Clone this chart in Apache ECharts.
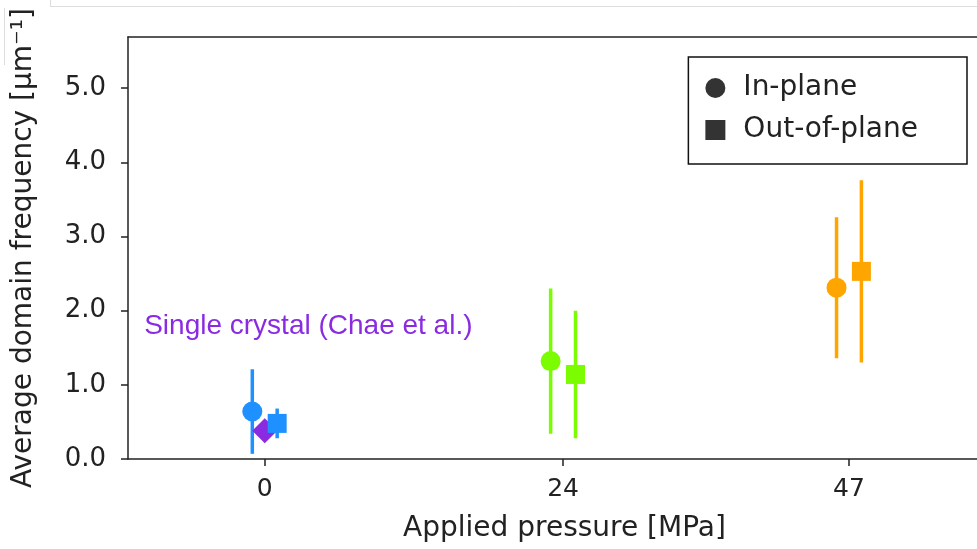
<!DOCTYPE html>
<html>
<head>
<meta charset="utf-8">
<script src="https://cdn.jsdelivr.net/npm/echarts@6/dist/echarts.min.js"></script>
<style>
  html, body { margin: 0; padding: 0; background: #fff; }
  #chart { width: 977px; height: 549px; }
</style>
</head>
<body>
<div id="chart"></div>
<script>
// Applied pressure levels [MPa] and the colour used for each level
const pressures = [0, 24, 47];
const pressureColors = ['#1E90FF', '#7CFC00', '#FFA500'];

// Average domain frequency [µm^-1]: mean and symmetric error
const inPlaneMean = [0.64, 1.32, 2.31];
const inPlaneErr = [0.57, 0.98, 0.95];
const outPlaneMean = [0.48, 1.14, 2.53];
const outPlaneErr = [0.20, 0.86, 1.23];

// Single-crystal reference point (pressure, frequency)
const singleCrystal = [0, 0.38];

// Tick values
const xTicks = [0, 24, 47];
const yTicks = [0, 1, 2, 3, 4, 5];

const FONT = 'DejaVu Sans';
const INK = '#222';
const DODGE = 1; // horizontal shift (MPa) separating the two orientations
const X_MIN = -11, X_MAX = 57.3;

function errorBarRenderer(shape) {
  return function (params, api) {
    const x = api.value(0), y = api.value(1), e = api.value(2);
    const top = api.coord([x, y + e]);
    const bot = api.coord([x, y - e]);
    const c = api.coord([x, y]);
    const color = pressureColors[params.dataIndex];
    const children = [{
      type: 'line',
      shape: { x1: top[0], y1: top[1], x2: bot[0], y2: bot[1] },
      style: { stroke: color, lineWidth: 3.5 }
    }];
    if (shape === 'circle') {
      children.push({ type: 'circle', shape: { cx: c[0], cy: c[1], r: 10 }, style: { fill: color } });
    } else {
      children.push({ type: 'rect', shape: { x: c[0] - 9.5, y: c[1] - 9.5, width: 19, height: 19 }, style: { fill: color } });
    }
    return { type: 'group', children };
  };
}

const inPlaneData = pressures.map((p, i) => [p - DODGE, inPlaneMean[i], inPlaneErr[i]]);
const outPlaneData = pressures.map((p, i) => [p + DODGE, outPlaneMean[i], outPlaneErr[i]]);

const chart = echarts.init(document.getElementById('chart'), null, { renderer: 'canvas' });

chart.setOption({
  animation: false,
  backgroundColor: '#fff',
  grid: { left: 128, top: 37, right: 0, bottom: 90, show: false, outerBoundsMode: 'none', containLabel: false },
  xAxis: [
    {
      type: 'value', min: X_MIN, max: X_MAX,
      name: 'Applied pressure [MPa]', nameLocation: 'middle', nameGap: 56,
      nameTextStyle: { fontFamily: FONT, fontSize: 28, color: INK, padding: [0, 0, 0, 24] },
      axisLine: { show: true, onZero: false, lineStyle: { color: INK, width: 1.5 } },
      axisTick: { show: true, customValues: xTicks, length: 7, lineStyle: { color: INK, width: 1.5 } },
      axisLabel: { customValues: xTicks, margin: 18, fontFamily: FONT, fontSize: 25, color: INK },
      splitLine: { show: false }
    },
    {
      // top spine only
      type: 'value', position: 'top', min: X_MIN, max: X_MAX,
      axisLine: { show: true, onZero: false, lineStyle: { color: INK, width: 1.5 } },
      axisTick: { show: false }, axisLabel: { show: false }, splitLine: { show: false }
    }
  ],
  yAxis: {
    type: 'value', min: 0, max: 5.69,
    name: 'Average domain frequency [μm⁻¹]', nameLocation: 'middle', nameGap: 90, nameRotate: 90,
    nameTextStyle: { fontFamily: FONT, fontSize: 28, color: INK },
    axisLine: { show: true, onZero: false, lineStyle: { color: INK, width: 1.5 } },
    axisTick: { show: true, customValues: yTicks, length: 7, lineStyle: { color: INK, width: 1.5 } },
    axisLabel: {
      customValues: yTicks, margin: 22, fontFamily: FONT, fontSize: 26, color: INK,
      formatter: v => v.toFixed(1)
    },
    splitLine: { show: false }
  },
  legend: {
    orient: 'vertical', right: 10, top: 57,
    borderColor: '#111', borderWidth: 1.5, borderRadius: 0,
    padding: [17, 49, 20, 17], itemGap: 14, itemWidth: 20, itemHeight: 20,
    textStyle: { fontFamily: FONT, fontSize: 28, color: INK, padding: [0, 0, 0, 13] },
    data: [
      { name: 'In-plane', icon: 'circle', itemStyle: { color: '#333' } },
      { name: 'Out-of-plane', icon: 'rect', itemStyle: { color: '#333' } }
    ]
  },
  series: [
    {
      name: 'Single crystal', type: 'scatter', symbol: 'diamond', symbolSize: 25,
      itemStyle: { color: '#8A2BE2', opacity: 1 }, z: 2,
      data: [singleCrystal]
    },
    {
      name: 'In-plane', type: 'custom', z: 1, color: '#333',
      renderItem: errorBarRenderer('circle'), data: inPlaneData,
      encode: { x: 0, y: [1, 2] }
    },
    {
      name: 'Out-of-plane', type: 'custom', z: 3, color: '#333',
      renderItem: errorBarRenderer('square'), data: outPlaneData,
      encode: { x: 0, y: [1, 2] }
    }
  ]
});

// Annotation anchored in data space next to the single-crystal point
const labelPos = chart.convertToPixel({ gridIndex: 0 }, [-9.7, 1.79]);
chart.setOption({
  graphic: [
    {
      type: 'text', x: labelPos[0], y: labelPos[1],
      style: {
        text: 'Single crystal (Chae et al.)', fill: '#8A2BE2',
        font: '28px "Liberation Sans", Arial, sans-serif', align: 'left', verticalAlign: 'middle'
      }
    },
    // thin light page edges at the top-left corner
    { type: 'line', shape: { x1: 50, y1: 6.5, x2: 977, y2: 6.5 }, style: { stroke: '#ddd', lineWidth: 1 } },
    { type: 'line', shape: { x1: 50.5, y1: 0, x2: 50.5, y2: 6.5 }, style: { stroke: '#ddd', lineWidth: 1 } },
    { type: 'line', shape: { x1: 4.5, y1: 8, x2: 4.5, y2: 65 }, style: { stroke: '#ddd', lineWidth: 1 } }
  ]
});
</script>
</body>
</html>
